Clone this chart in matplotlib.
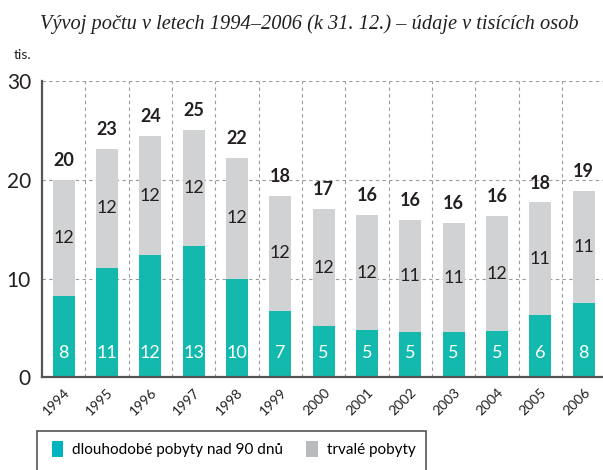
import matplotlib
matplotlib.use("Agg")
import matplotlib.pyplot as plt
from matplotlib.patches import Patch, Rectangle
import numpy as np

# data (thousands of persons, state at 31 Dec)
years = ["1994", "1995", "1996", "1997", "1998", "1999", "2000",
         "2001", "2002", "2003", "2004", "2005", "2006"]
long_term = [8.2, 11.1, 12.4, 13.3, 10.0, 6.7, 5.2, 4.8, 4.6, 4.6, 4.7, 6.3, 7.5]
permanent = [11.8, 12.0, 12.0, 11.7, 12.2, 11.7, 11.8, 11.6, 11.3, 11.0, 11.6, 11.4, 11.4]
y_ticks = [0, 10, 20, 30]

title = "Vývoj počtu v letech 1994–2006 (k 31. 12.) – údaje v tisících osob"
legend_labels = ["dlouhodobé pobyty nad 90 dnů", "trvalé pobyty"]

teal = "#14b9ae"
grey = "#d1d2d4"
font = ["Lato", "DejaVu Sans"]
plt.rcParams["font.family"] = font

fig = plt.figure(figsize=(6.03, 4.70), dpi=100)
ax = fig.add_axes([0.0697, 0.197, 0.934, 0.631])

x = np.arange(len(years))
lt = np.array(long_term)
pm = np.array(permanent)
total = lt + pm

ax.bar(x, lt, width=0.51, color=teal, zorder=3)
ax.bar(x, pm, bottom=lt, width=0.51, color=grey, zorder=3)

for i in range(len(x)):
    ax.text(x[i], 2.5, f"{lt[i]:.0f}", ha="center", va="center",
            color="white", fontsize=13, zorder=4)
    ax.text(x[i], lt[i] + pm[i] / 2, f"{pm[i]:.0f}", ha="center", va="center",
            color="#231f20", fontsize=13, zorder=4)
    ax.text(x[i], total[i] + 1.1, f"{total[i]:.0f}", ha="center", va="bottom",
            color="#231f20", fontsize=13, fontweight="bold", zorder=4)

# dashed grid
for yv in y_ticks[1:]:
    ax.axhline(yv, color="#9a9a9a", lw=0.8, ls=(0, (3, 3)), zorder=1)
for xv in x + 0.5:
    ax.axvline(xv, color="#9a9a9a", lw=0.8, ls=(0, (3, 3)), zorder=1)

ax.set_xlim(-0.5, 12.5)
ax.set_ylim(0, 30)
ax.set_yticks(y_ticks)
ax.set_yticklabels([str(v) for v in y_ticks], fontsize=15, color="#231f20")
ax.set_xticks(x)
ax.set_xticklabels(years, rotation=45, ha="right", va="top",
                   rotation_mode="anchor", fontsize=10, color="#231f20")
ax.tick_params(axis="both", length=0)
ax.tick_params(axis="y", pad=8)
ax.tick_params(axis="x", pad=6)
for s in ["top", "right"]:
    ax.spines[s].set_visible(False)
for s in ["left", "bottom"]:
    ax.spines[s].set_color("#555555")
    ax.spines[s].set_linewidth(1.6)
    ax.spines[s].set_zorder(5)

fig.text(0.513, 0.948, title, ha="center", va="center", fontsize=14.7,
         style="italic", family=["Liberation Serif", "DejaVu Serif"], color="#231f20")
fig.text(0.022, 0.882, "tis.", ha="left", va="center", fontsize=10, color="#231f20")

# legend box running off the bottom edge
fig.patches.append(Rectangle((37 / 603, -0.05), (426 - 37) / 603, (470 - 431) / 470 + 0.05,
                             transform=fig.transFigure, fill=False,
                             edgecolor="#555555", lw=1.2))
handles = [Patch(facecolor="#00b5bf", edgecolor="none"),
           Patch(facecolor="#b9babd", edgecolor="none")]
fig.legend(handles, legend_labels, loc="center left", bbox_to_anchor=(0.086, 0.044),
           ncol=2, frameon=False, fontsize=11, handlelength=0.75, handleheight=1.25,
           handletextpad=0.6, columnspacing=1.5, borderpad=0, borderaxespad=0)

fig.savefig("out.png", dpi=100)
